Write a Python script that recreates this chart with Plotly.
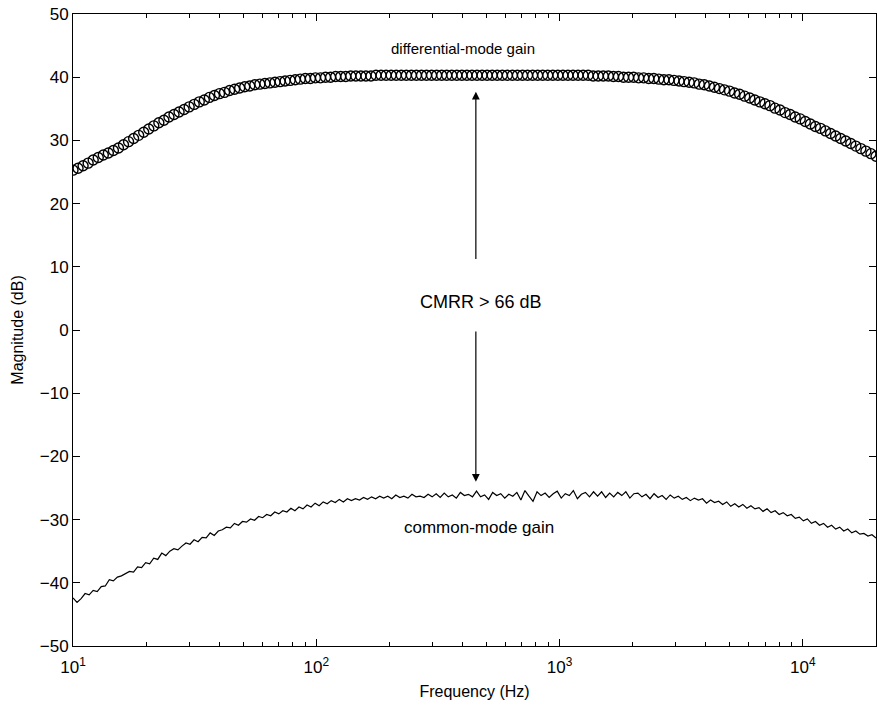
import numpy as np
import plotly.graph_objects as go

# ---- data ----
DIFF_F_START, DIFF_F_STOP, DIFF_N = 10.0, 20000.0, 160
diff_gain_db = [
    25.3, 25.6, 26.0, 26.4, 26.9, 27.3, 27.7, 28.0, 28.4, 28.8,
    29.3, 29.8, 30.3, 30.8, 31.3, 31.8, 32.3, 32.8, 33.2, 33.7,
    34.1, 34.5, 34.9, 35.3, 35.7, 36.1, 36.4, 36.8, 37.1, 37.4,
    37.6, 37.9, 38.1, 38.3, 38.5, 38.6, 38.8, 38.9, 39.0, 39.1,
    39.2, 39.3, 39.4, 39.5, 39.6, 39.7, 39.8, 39.8, 39.9, 39.9,
    40.0, 40.0, 40.1, 40.1, 40.1, 40.2, 40.2, 40.2, 40.2, 40.2,
    40.3, 40.3, 40.3, 40.3, 40.3, 40.3, 40.3, 40.3, 40.3, 40.3,
    40.3, 40.3, 40.3, 40.3, 40.3, 40.3, 40.3, 40.3, 40.3, 40.3,
    40.3, 40.3, 40.3, 40.3, 40.3, 40.3, 40.3, 40.3, 40.3, 40.3,
    40.3, 40.3, 40.3, 40.3, 40.3, 40.3, 40.3, 40.3, 40.3, 40.3,
    40.3, 40.3, 40.3, 40.2, 40.2, 40.2, 40.2, 40.1, 40.1, 40.0,
    40.0, 40.0, 39.9, 39.9, 39.8, 39.8, 39.7, 39.6, 39.6, 39.5,
    39.4, 39.3, 39.2, 39.1, 38.9, 38.8, 38.6, 38.4, 38.2, 38.0,
    37.8, 37.5, 37.3, 37.0, 36.7, 36.4, 36.1, 35.8, 35.5, 35.1,
    34.8, 34.4, 34.1, 33.7, 33.4, 33.0, 32.6, 32.2, 31.9, 31.5,
    31.1, 30.7, 30.3, 29.9, 29.5, 29.1, 28.7, 28.3, 27.9, 27.5,
]

CM_F_START, CM_F_STOP, CM_N = 10.0, 20000.0, 200
common_gain_db = [
    -42.4, -43.1, -42.5, -41.7, -41.9, -41.2, -41.4, -40.6, -40.5, -39.5,
    -39.7, -39.1, -38.9, -38.6, -38.2, -38.3, -37.5, -37.6, -36.8, -37.0,
    -36.1, -36.3, -35.3, -35.7, -35.0, -34.6, -34.8, -34.2, -33.7, -33.9,
    -33.2, -33.5, -32.8, -32.9, -32.1, -32.5, -31.8, -31.6, -31.2, -31.3,
    -30.6, -30.9, -30.3, -30.4, -29.9, -30.1, -29.5, -29.7, -29.2, -29.4,
    -28.8, -29.1, -28.6, -28.8, -28.2, -28.6, -28.0, -28.3, -27.7, -28.0,
    -27.4, -27.8, -27.2, -27.5, -27.0, -27.3, -26.8, -27.2, -26.7, -27.0,
    -26.7, -26.9, -26.5, -26.8, -26.4, -26.7, -26.3, -26.6, -26.3, -26.7,
    -26.1, -26.5, -26.3, -26.6, -26.0, -26.4, -26.3, -26.5, -26.0, -26.4,
    -25.9, -26.5, -25.8, -26.4, -26.1, -26.6, -25.7, -26.2, -26.0, -26.4,
    -25.5, -26.4, -26.1, -26.8, -25.7, -26.2, -25.9, -26.6, -26.0, -26.3,
    -25.7, -26.9, -25.4, -26.3, -27.1, -25.6, -26.2, -25.8, -26.5, -25.9,
    -25.5, -26.6, -25.9, -26.2, -25.4, -26.7, -26.0, -25.7, -26.4, -25.6,
    -26.3, -25.6, -26.5, -25.8, -26.4, -25.7, -26.2, -25.6, -26.6, -25.9,
    -25.8, -26.4, -26.0, -26.7, -25.9, -26.5, -26.2, -26.8, -26.1, -26.6,
    -26.3, -26.8, -26.5, -27.0, -26.6, -26.9, -26.7, -27.4, -26.9, -27.3,
    -27.1, -27.6, -27.2, -27.9, -27.5, -28.0, -27.6, -28.2, -27.8, -28.3,
    -28.1, -28.7, -28.3, -28.9, -28.6, -29.2, -28.9, -29.4, -29.2, -29.8,
    -29.6, -30.2, -29.9, -30.6, -30.3, -30.9, -30.6, -31.2, -30.9, -31.5,
    -31.2, -31.8, -31.5, -32.1, -31.8, -32.3, -32.2, -32.6, -32.4, -32.9,
]

y_ticks = [-50, -40, -30, -20, -10, 0, 10, 20, 30, 40, 50]
x_ticks = [10, 100, 1000, 10000]
x_tick_text = ["10<sup>1</sup>", "10<sup>2</sup>", "10<sup>3</sup>", "10<sup>4</sup>"]
x_minor = [20, 30, 40, 50, 60, 70, 80, 90,
           200, 300, 400, 500, 600, 700, 800, 900,
           2000, 3000, 4000, 5000, 6000, 7000, 8000, 9000]

# annotation texts: (text, frequency, dB, font size)
labels = [
    ("differential-mode gain", 401.0, 44.6, 15),
    ("CMRR > 66 dB", 475.0, 4.4, 18),
    ("common-mode gain", 467.0, -31.2, 17),
]
arrow_f = 453.0
arrow_up = (11.0, 37.7)     # (tail, head) in dB
arrow_down = (0.0, -24.0)

# ---- figure ----
f_diff = np.logspace(np.log10(DIFF_F_START), np.log10(DIFF_F_STOP), DIFF_N)
f_cm = np.logspace(np.log10(CM_F_START), np.log10(CM_F_STOP), CM_N)

FONT = "Liberation Sans, Arial, Helvetica, sans-serif"

fig = go.Figure()
fig.add_trace(go.Scatter(
    x=f_cm, y=common_gain_db, mode="lines",
    line=dict(color="black", width=1.2), showlegend=False))
fig.add_trace(go.Scatter(
    x=f_diff, y=diff_gain_db, mode="markers",
    marker=dict(symbol="circle-open", size=10, color="black",
                line=dict(width=1.4, color="black")),
    showlegend=False))

for text, f, db, size in labels:
    fig.add_annotation(x=np.log10(f), y=db, xref="x", yref="y", text=text,
                       showarrow=False, font=dict(size=size, color="black"))
ax_log = np.log10(arrow_f)
for tail, head in (arrow_up, arrow_down):
    fig.add_annotation(x=ax_log, y=head, ax=ax_log, ay=tail, xref="x", yref="y",
                       axref="x", ayref="y", text="", showarrow=True,
                       arrowhead=2, arrowsize=1.3, arrowwidth=1.2,
                       arrowcolor="black")

fig.update_layout(
    width=877, height=709,
    margin=dict(l=73, r=1, t=14, b=63),
    paper_bgcolor="white", plot_bgcolor="white",
    font=dict(family=FONT, size=15, color="black"),
)
fig.update_xaxes(
    type="log", range=[np.log10(DIFF_F_START), np.log10(DIFF_F_STOP)],
    tickvals=x_ticks, ticktext=x_tick_text,
    ticks="inside", ticklen=7, tickwidth=1, tickcolor="black",
    showline=True, linecolor="black", linewidth=1, mirror="ticks",
    showgrid=False, zeroline=False, ticklabelstandoff=6,
    minor=dict(tickmode="array", tickvals=x_minor, ticks="inside", ticklen=4,
               tickcolor="black", showgrid=False),
    title=dict(text="Frequency (Hz)", font=dict(size=16), standoff=9),
    tickfont=dict(size=17),
)
fig.update_yaxes(
    range=[-50, 50], tickvals=y_ticks,
    ticks="inside", ticklen=7, tickwidth=1, tickcolor="black",
    showline=True, linecolor="black", linewidth=1, mirror="ticks",
    showgrid=False, zeroline=False,
    title=dict(text="Magnitude (dB)", font=dict(size=16), standoff=12),
    tickfont=dict(size=17),
)

fig.write_html("out.html")
